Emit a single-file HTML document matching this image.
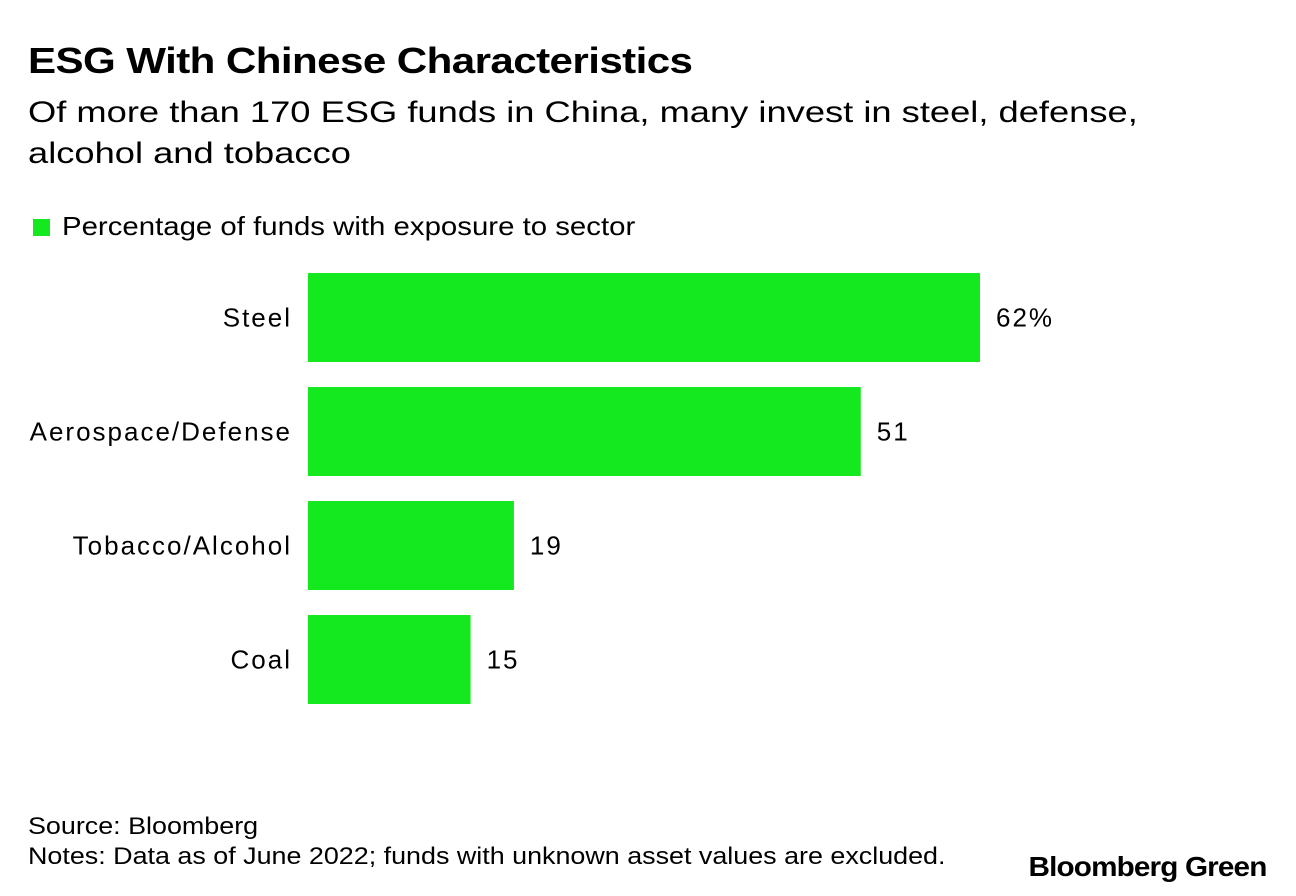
<!DOCTYPE html>
<html><head><meta charset="utf-8">
<style>
body{margin:0;background:#fff;font-family:"Liberation Sans",Arial,sans-serif;color:#000;}
#root{position:relative;width:1296px;height:896px;overflow:hidden;}
.t{position:absolute;white-space:nowrap;transform-origin:left top;}
</style></head>
<body>
<div id="root">
<div class="t" style="left:28px;top:40px;font-size:36px;font-weight:bold;letter-spacing:-0.5px;transform:scaleX(1.17);">ESG With Chinese Characteristics</div>
<div class="t" style="left:28px;top:92px;font-size:30px;line-height:41px;transform:scaleX(1.21);">Of more than 170 ESG funds in China, many invest in steel, defense,<br>alcohol and tobacco</div>
<div style="position:absolute;left:33px;top:219px;width:17px;height:17px;background:#14e81e;"></div>
<div class="t" style="left:62px;top:211px;font-size:26px;transform:scaleX(1.13);">Percentage of funds with exposure to sector</div>
<svg id="chart" width="1296" height="896" style="position:absolute;left:0;top:0;" font-family="Liberation Sans, Arial, sans-serif"></svg>
<div class="t" style="left:28px;top:813px;font-size:24px;transform:scaleX(1.12);">Source: Bloomberg</div>
<div class="t" style="left:28px;top:843px;font-size:24px;transform:scaleX(1.12);">Notes: Data as of June 2022; funds with unknown asset values are excluded.</div>
<div class="t" style="right:30px;top:851px;font-size:28px;font-weight:bold;letter-spacing:-0.8px;transform-origin:right top;transform:scaleX(1.06);">Bloomberg Green</div>
</div>
<script>
const categories=["Steel","Aerospace/Defense","Tobacco/Alcohol","Coal"];
const values=[62,51,19,15];
const valueLabels=["62%","51","19","15"];
const NS="http://www.w3.org/2000/svg";
const svg=document.getElementById('chart');
const x0=308,scale=672/62;
const xPos=v=>x0+v*scale;
const yTop=i=>273+i*114;
const bh=89;
categories.forEach((c,i)=>{
  const r=document.createElementNS(NS,'rect');
  r.setAttribute('x',x0);r.setAttribute('y',yTop(i));
  r.setAttribute('width',xPos(values[i])-x0);r.setAttribute('height',bh);
  r.setAttribute('fill','#14e81e');
  
  
  svg.appendChild(r);
  const l=document.createElementNS(NS,'text');
  l.setAttribute('x',292);l.setAttribute('y',yTop(i)+bh/2+9);
  l.setAttribute('text-anchor','end');l.setAttribute('font-size','26');
  l.setAttribute('letter-spacing','2');
  l.textContent=c;
  
  
  svg.appendChild(l);
  const v=document.createElementNS(NS,'text');
  v.setAttribute('x',xPos(values[i])+16);v.setAttribute('y',yTop(i)+bh/2+9);
  v.setAttribute('font-size','26');
  v.setAttribute('letter-spacing','2');
  v.textContent=valueLabels[i];
  
  
  svg.appendChild(v);
});
</script>
</body></html>
